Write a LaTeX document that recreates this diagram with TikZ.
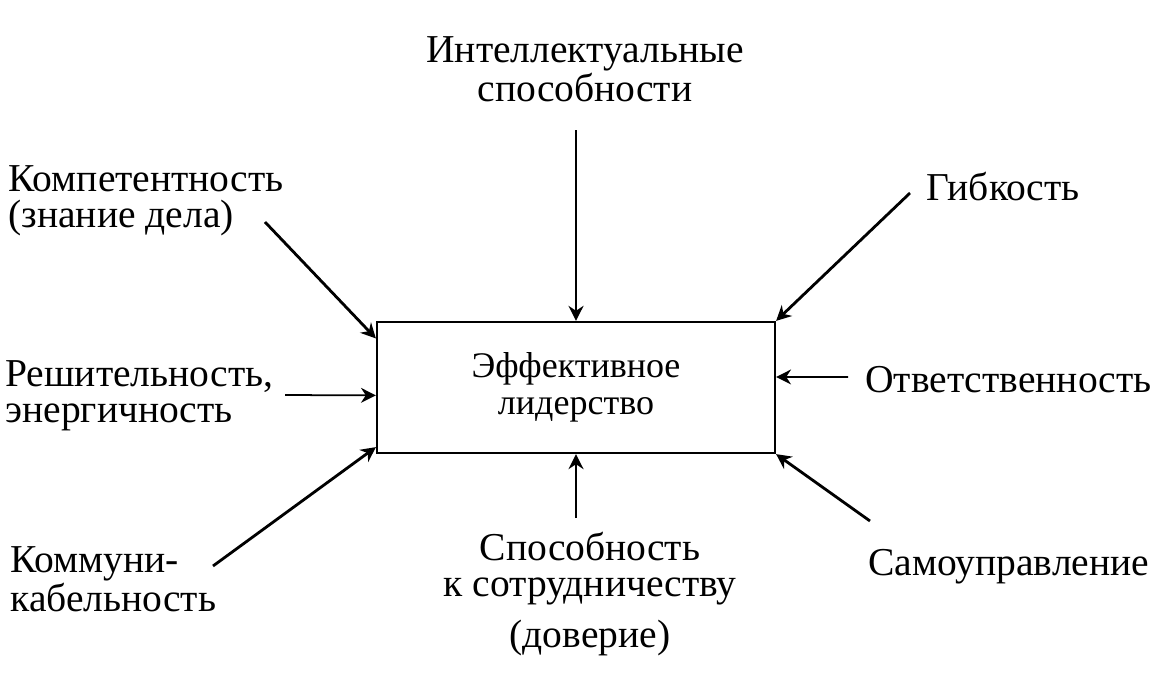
\documentclass[tikz,border=0pt]{standalone}
\usepackage{fontspec}
\setmainfont{Liberation Serif}
\usepackage{tikz}
\usetikzlibrary{arrows.meta,positioning}

\begin{document}
\begin{tikzpicture}[->,>={Stealth[length=8.5pt,width=8.5pt]},x=0.02cm,y=-0.02cm,
	line width=1.6pt,
	lead node/.style={draw,line width=1.3pt,minimum width=7.96cm,minimum height=2.62cm,align=center,inner sep=0pt,font=\fontsize{20.5}{21}\selectfont},
	trait node/.style={font=\fontsize{22.5}{20.5}\selectfont,inner sep=0pt}]
	\useasboundingbox (0,0) rectangle (1172,690);
	
	\node[lead node] (lead) at (576,387.5) {Эффективное\\лидерство\hspace*{0pt}};
	
	\node[trait node,align=center] (intel) at (585,69) {Интеллектуальные\\способности};
	\node[trait node,align=left,anchor=west] (komp) at (7,201) {Компетентность\\(знание дела)};
	\node[trait node,anchor=west] (gibk) at (925,187) {Гибкость};
	\node[trait node,align=left,anchor=west] (resh) at (4,396) {Решительность,\\энергичность};
	\node[trait node,anchor=west] (otv) at (864,380) {Ответственность};
	\node[trait node,align=left,anchor=west] (komm) at (9,579) {Коммуни-\\кабельность};
	\node[trait node,align=center] (sotr) at (590,594) {Способность\\к сотрудничеству\\[9pt](доверие)};
	\node[trait node,anchor=west] (samo) at (867,567) {Самоуправление};
	
	\coordinate (intelT) at (576,130);
	\coordinate (kompT) at (265,222);
	\coordinate (gibkT) at (910,193);
	\coordinate (reshT) at (285,395);
	\coordinate (otvT) at (848,377);
	\coordinate (kommT) at (213,566);
	\coordinate (sotrT) at (576,518);
	\coordinate (samoT) at (870,521);
	
	\path
	(intelT) edge (lead.north)
	(kompT) edge ([yshift=-10pt]lead.north west)
	(gibkT) edge (lead.north east)
	(reshT) edge[line width=1pt] ([yshift=-4.5pt]lead.west)
	(otvT) edge[line width=1pt] ([yshift=6pt]lead.east)
	(kommT) edge ([yshift=4pt]lead.south west)
	(sotrT) edge (lead.south)
	(samoT) edge (lead.south east);
\end{tikzpicture}
\end{document}
